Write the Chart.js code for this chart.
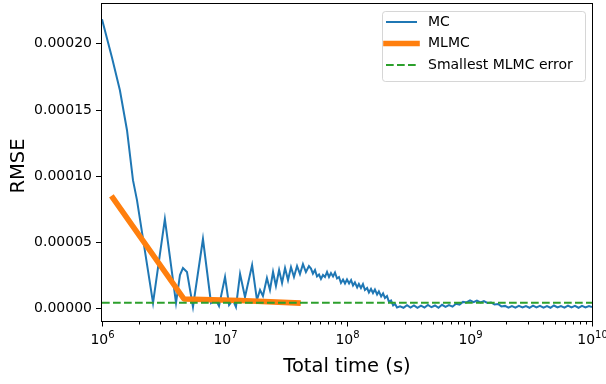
<!DOCTYPE html>
<html>
<head>
<meta charset="utf-8">
<script src="https://cdn.jsdelivr.net/npm/chart.js@4.4.0/dist/chart.umd.min.js"></script>
<style>
  html, body { margin: 0; padding: 0; background: #fff; }
  #wrap { width: 606px; height: 384px; }
</style>
</head>
<body>
<div id="wrap"><canvas id="rmseChart" width="606" height="384"></canvas></div>
<script>
// MC: total time (s) against RMSE
var mcTime = [
  1.00e6, 1.21e6, 1.40e6, 1.60e6, 1.79e6, 1.93e6, 2.61e6, 3.26e6, 4.02e6, 4.33e6,
  4.58e6, 4.94e6, 5.53e6, 6.67e6, 7.76e6, 8.53e6, 9.02e6, 1.01e7, 1.09e7, 1.17e7,
  1.24e7, 1.34e7, 1.47e7, 1.68e7, 1.84e7, 1.95e7, 2.06e7, 2.22e7, 2.35e7, 2.49e7,
  2.63e7, 2.79e7, 2.95e7, 3.12e7, 3.30e7, 3.49e7, 3.69e7, 3.91e7, 4.13e7, 4.37e7,
  4.62e7, 4.89e7,
  5.08e7, 5.27e7, 5.48e7, 5.69e7, 5.91e7, 6.13e7, 6.37e7, 6.61e7, 6.87e7, 7.13e7,
  7.40e7, 7.69e7, 7.98e7, 8.29e7, 8.60e7, 8.93e7, 9.28e7, 9.63e7, 1.00e8, 1.04e8,
  1.08e8, 1.12e8, 1.16e8, 1.21e8, 1.25e8, 1.30e8, 1.35e8, 1.40e8, 1.46e8, 1.51e8,
  1.57e8, 1.63e8, 1.69e8, 1.76e8, 1.82e8, 1.90e8, 1.97e8, 2.04e8, 2.12e8, 2.20e8,
  2.29e8, 2.38e8, 2.47e8, 2.56e8, 2.71e8,
  2.89e8, 3.09e8, 3.30e8, 3.52e8, 3.76e8, 4.02e8, 4.29e8, 4.58e8, 4.89e8, 5.23e8,
  5.58e8, 5.97e8, 6.37e8, 6.80e8, 7.27e8, 7.76e8, 8.29e8, 8.85e8, 9.45e8, 1.01e9,
  1.08e9, 1.15e9, 1.23e9, 1.31e9, 1.40e9, 1.50e9, 1.60e9, 1.71e9, 1.82e9, 1.95e9,
  2.08e9, 2.22e9, 2.37e9, 2.53e9, 2.71e9, 2.89e9, 3.09e9, 3.30e9, 3.52e9, 3.76e9,
  4.02e9, 4.29e9, 4.58e9, 4.89e9, 5.23e9, 5.58e9, 5.96e9, 6.37e9, 6.80e9, 7.26e9,
  7.76e9, 8.28e9, 8.85e9, 9.45e9, 1.00e10
];
var mcRmse = [
  2.181e-4, 1.887e-4, 1.646e-4, 1.344e-4, 9.67e-5, 8.17e-5, 4.0e-6, 6.73e-5, 4.0e-6, 2.51e-5,
  3.04e-5, 2.74e-5, 1.0e-6, 5.23e-5, 4.0e-6, 6.3e-6, 1.7e-6, 2.36e-5, 2.5e-6, 6.3e-6,
  1.0e-6, 2.59e-5, 8.5e-6, 3.26e-5, 6.3e-6, 1.38e-5, 9.3e-6, 2.28e-5, 1.38e-5, 2.74e-5,
  1.68e-5, 2.89e-5, 1.91e-5, 3.04e-5, 2.13e-5, 3.11e-5, 2.36e-5, 3.19e-5, 2.59e-5, 3.34e-5,
  2.74e-5, 3.19e-5,
  3.00e-5, 2.62e-5, 2.89e-5, 2.40e-5, 2.55e-5, 2.21e-5, 2.51e-5, 2.36e-5, 2.74e-5, 2.36e-5,
  2.66e-5, 2.40e-5, 2.70e-5, 2.25e-5, 2.36e-5, 1.91e-5, 2.17e-5, 1.87e-5, 2.17e-5, 1.87e-5,
  2.13e-5, 1.72e-5, 1.95e-5, 1.57e-5, 1.83e-5, 1.53e-5, 1.83e-5, 1.38e-5, 1.53e-5, 1.19e-5,
  1.46e-5, 1.15e-5, 1.42e-5, 1.04e-5, 1.27e-5, 8.9e-6, 1.12e-5, 7.8e-6, 9.3e-6, 4.8e-6,
  5.9e-6, 2.1e-6, 3.2e-6, 6e-7, 1.4e-6,
  4e-7, 2.4e-6, 6e-7, 2.2e-6, 3e-7, 2.0e-6, 5e-7, 2.5e-6, 8e-7, 2.1e-6,
  4e-7, 2.6e-6, 1.0e-6, 2.4e-6, 1.2e-6, 3.4e-6, 2.8e-6, 4.8e-6, 4.4e-6, 6.0e-6,
  4.6e-6, 5.8e-6, 4.5e-6, 5.4e-6, 4.0e-6, 4.4e-6, 2.8e-6, 3.2e-6, 1.4e-6, 1.8e-6,
  4e-7, 1.6e-6, 5e-7, 1.9e-6, 6e-7, 1.7e-6, 4e-7, 2.0e-6, 7e-7, 1.8e-6,
  5e-7, 1.6e-6, 4e-7, 2.1e-6, 6e-7, 1.7e-6, 5e-7, 2.0e-6, 7e-7, 1.8e-6,
  4e-7, 1.9e-6, 6e-7, 1.7e-6, 9e-7
];

// MLMC
var mlmcTime = [1.23e6, 4.67e6, 1.34e7, 3.98e7];
var mlmcRmse = [8.32e-5, 7.0e-6, 5.9e-6, 4.0e-6];

var smallestMlmcError = 4.2e-6;
var seriesNames = ["MC", "MLMC", "Smallest MLMC error"];

var xRange = [1e6, 1e10];
var yRange = [-9.6e-6, 2.297e-4];
var yTicks = [0, 5e-5, 1e-4, 1.5e-4, 2e-4];
var yTickLabels = ["0.00000", "0.00005", "0.00010", "0.00015", "0.00020"];
var xTickExps = [6, 7, 8, 9, 10];
var xTitle = "Total time (s)";
var yTitle = "RMSE";

var FONT = '"DejaVu Sans", sans-serif';

function pairs(xs, ys) {
  return xs.map(function (x, i) { return { x: x, y: ys[i] }; });
}

// draws the matplotlib style frame, ticks, labels and legend
var mplAxes = {
  id: "mplAxes",
  afterDraw: function (chart) {
    var ctx = chart.ctx;
    var area = chart.chartArea;
    var xs = chart.scales.x;
    var ys = chart.scales.y;
    ctx.save();
    ctx.strokeStyle = "#000";
    ctx.fillStyle = "#000";
    ctx.lineWidth = 1;
    ctx.setLineDash([]);
    ctx.strokeRect(area.left - 0.5, area.top - 0.5, area.right - area.left + 1, area.bottom - area.top + 1);

    // y ticks
    ctx.font = "14px " + FONT;
    ctx.textAlign = "right";
    ctx.textBaseline = "middle";
    yTicks.forEach(function (v, i) {
      var py = Math.round(ys.getPixelForValue(v)) + 0.5;
      ctx.beginPath();
      ctx.moveTo(area.left - 6, py);
      ctx.lineTo(area.left - 1, py);
      ctx.stroke();
      ctx.fillText(yTickLabels[i], area.left - 10, py);
    });

    // x ticks, log decades plus minor ones
    var yb = area.bottom + 0.5;
    for (var e = 6; e < 10; e++) {
      for (var k = 2; k <= 9; k++) {
        var mx = Math.round(xs.getPixelForValue(k * Math.pow(10, e))) + 0.5;
        ctx.beginPath();
        ctx.moveTo(mx, yb);
        ctx.lineTo(mx, yb + 3);
        ctx.stroke();
      }
    }
    xTickExps.forEach(function (e) {
      var px = Math.round(xs.getPixelForValue(Math.pow(10, e))) + 0.5;
      ctx.beginPath();
      ctx.moveTo(px, yb);
      ctx.lineTo(px, yb + 5);
      ctx.stroke();
      ctx.font = "14px " + FONT;
      var w1 = ctx.measureText("10").width;
      ctx.font = "10px " + FONT;
      var w2 = ctx.measureText(String(e)).width;
      var x0 = px - (w1 + w2) / 2;
      ctx.textAlign = "left";
      ctx.textBaseline = "alphabetic";
      ctx.font = "14px " + FONT;
      ctx.fillText("10", x0, 344);
      ctx.font = "10px " + FONT;
      ctx.fillText(String(e), x0 + w1, 338);
    });

    // axis titles
    ctx.font = "19.5px " + FONT;
    ctx.textAlign = "center";
    ctx.textBaseline = "alphabetic";
    ctx.fillText(xTitle, (area.left + area.right) / 2, 372);
    ctx.save();
    ctx.translate(24, 166);
    ctx.rotate(-Math.PI / 2);
    ctx.fillText(yTitle, 0, 0);
    ctx.restore();

    // legend
    ctx.beginPath();
    ctx.roundRect(382.5, 11.5, 203, 70, 3);
    ctx.fillStyle = "rgba(255,255,255,0.8)";
    ctx.fill();
    ctx.strokeStyle = "rgba(204,204,204,0.8)";
    ctx.stroke();
    var rows = [22, 43.5, 65];
    chart.data.datasets.forEach(function (ds, i) {
      ctx.beginPath();
      ctx.strokeStyle = ds.borderColor;
      ctx.lineWidth = ds.borderWidth;
      ctx.lineCap = ds.borderCapStyle || "butt";
      ctx.setLineDash(ds.borderDash || []);
      ctx.moveTo(386, rows[i]);
      ctx.lineTo(417, rows[i]);
      ctx.stroke();
      ctx.setLineDash([]);
      ctx.fillStyle = "#000";
      ctx.font = "14px " + FONT;
      ctx.textAlign = "left";
      ctx.textBaseline = "middle";
      ctx.fillText(ds.label, 428, rows[i]);
    });
    ctx.restore();
  }
};

var chart = new Chart(document.getElementById("rmseChart"), {
  type: "line",
  data: {
    datasets: [
      {
        label: seriesNames[0],
        data: pairs(mcTime, mcRmse),
        borderColor: "#1f77b4",
        borderWidth: 2,
        pointRadius: 0,
        tension: 0,
        order: 3
      },
      {
        label: seriesNames[1],
        data: pairs(mlmcTime, mlmcRmse),
        borderColor: "#ff7f0e",
        borderWidth: 5.6,
        borderCapStyle: "square",
        borderJoinStyle: "round",
        pointRadius: 0,
        tension: 0,
        order: 2
      },
      {
        label: seriesNames[2],
        data: pairs(xRange, [smallestMlmcError, smallestMlmcError]),
        borderColor: "#2ca02c",
        borderWidth: 2,
        borderDash: [7.7, 3.3],
        pointRadius: 0,
        tension: 0,
        order: 1
      }
    ]
  },
  options: {
    responsive: false,
    animation: false,
    devicePixelRatio: 1,
    layout: { padding: { left: 102, right: 14, top: 4, bottom: 63 } },
    plugins: { legend: { display: false }, tooltip: { enabled: false } },
    scales: {
      x: { type: "logarithmic", min: xRange[0], max: xRange[1], display: false },
      y: { type: "linear", min: yRange[0], max: yRange[1], display: false }
    }
  },
  plugins: [mplAxes]
});
</script>
</body>
</html>
